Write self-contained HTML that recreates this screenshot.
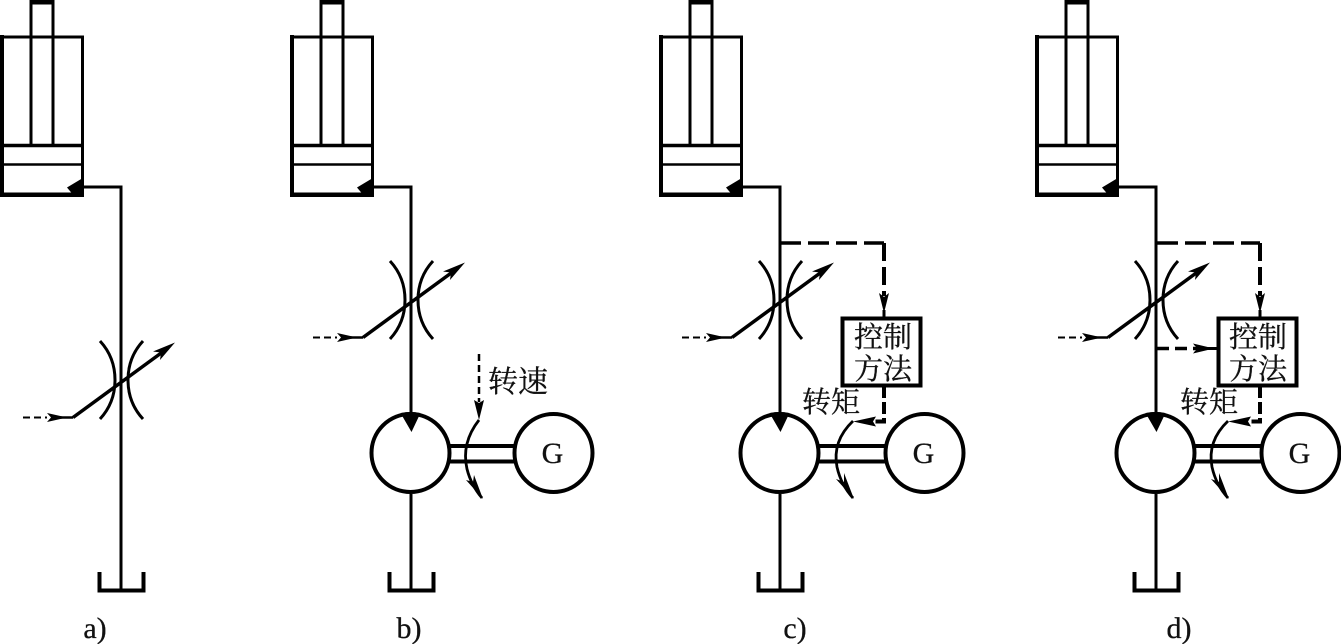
<!DOCTYPE html>
<html><head><meta charset="utf-8"><style>
html,body{margin:0;padding:0;background:#fff}
svg{display:block}
text{font-family:"Liberation Serif","Noto Serif CJK SC",serif;fill:#111;stroke:#111;stroke-width:.3}
.l{fill:none;stroke:#000;stroke-width:3}
.t{fill:none;stroke:#000;stroke-width:4}
.d{fill:none;stroke:#000;stroke-width:4;stroke-dasharray:21 7}
.ds{fill:none;stroke:#000;stroke-width:2;stroke-dasharray:7 4}
.f{fill:#000;stroke:none}
</style></head><body>
<svg width="1341" height="644" viewBox="0 0 1341 644" xmlns="http://www.w3.org/2000/svg">
<defs>
<g id="cyl">
<path class="l" d="M2 37H82.500V195" style="stroke-width:3"/>
<path class="f" d="M0 35H4V197H0ZM0 192.500H84V197H0Z"/>
<path class="l" d="M2 145.500H82" style="stroke-width:3.500"/>
<path class="l" d="M2 164.500H82" style="stroke-width:2.500"/>
<path class="l" d="M31 37V145M53 37V145" style="stroke-width:3"/>
<path class="l" d="M31 37V2M53 37V2" style="stroke-width:3"/>
<path class="f" d="M29.500 0H54.500V4.500H29.500Z"/>
<path class="f" d="M67 187.500L82 178.500H84V197H75Z"/>
</g>
<g id="orf">
<path class="l" d="M-21 -39C-9 -26 -6 -12 -6 0S-9 26 -21 39"/>
<path class="l" d="M22 -39C10 -26 7 -12 7 0S10 26 22 39"/>
<path class="l" d="M-48 37.500L47 -32" style="stroke-width:3.500"/>
<path class="f" d="M54 -37.500L32 -28.500L40 -27.500L39 -20Z"/>
<path class="ds" d="M-98 37.500H-74"/>
<path class="l" d="M-68 37.500H-48" style="stroke-width:2.500"/>
<path class="f" d="M-54 37.500L-74 33L-70 37.500L-74 42Z"/>
</g>
<g id="tank"><path class="t" d="M-21.500 572V590.500H22.500V572"/></g>
<g id="pump">
<circle class="t" cx="0" cy="0" r="39"/>
<path class="f" d="M-10 -40Q0 -42 10 -40L1 -21Z"/>
</g>
<g id="g">
<circle class="t" cx="0" cy="0" r="39"/>
<text x="-1" y="10" font-size="30" text-anchor="middle">G</text>
</g>
<g id="curve">
<path class="l" d="M0 -33Q-18 -10 -12 16Q-8 32 3 45" style="stroke-width:2.800"/>
<path class="f" d="M4 46L-13 27L-6 29L-5 22Z"/>
</g>
<g id="curve2">
<path class="l" d="M0 -32Q-21 -12 -16 14Q-12 32 0 45" style="stroke-width:2.800"/>
<path class="f" d="M1 46L-17 26L-9 29L-9 20Z"/>
</g>
</defs>
<rect width="1341" height="644" fill="#fff"/>

<!-- a -->
<use href="#cyl"/>
<path class="l" d="M82 187H121V591"/>
<use href="#orf" x="121" y="380"/>
<use href="#tank" x="121"/>
<text x="95" y="638" font-size="30" text-anchor="middle">a)</text>

<!-- b -->
<use href="#cyl" x="290"/>
<path class="l" d="M372 187H411V414M411 494V591"/>
<use href="#orf" x="411" y="300"/>
<use href="#tank" x="411"/>
<use href="#pump" x="410.500" y="453"/>
<path class="t" d="M450 446H514M450 461.500H514"/>
<use href="#g" x="553.500" y="453"/>
<path class="ds" d="M479 354V402" style="stroke-width:2.500"/>
<path class="f" d="M479 420L474 400L479 403L484 400Z"/>
<use href="#curve" x="479" y="453"/>
<text x="518" y="392" font-size="30" text-anchor="middle">转速</text>
<text x="409" y="638" font-size="30" text-anchor="middle">b)</text>

<!-- c -->
<use href="#cyl" x="659"/>
<path class="l" d="M741 187H780V414M780 494V591"/>
<use href="#orf" x="780" y="300"/>
<use href="#tank" x="780"/>
<use href="#pump" x="779.500" y="453"/>
<path class="t" d="M819 446H885M819 461.500H885"/>
<use href="#g" x="924.500" y="453"/>
<path class="d" d="M780 243H884" style="stroke-width:3.500"/>
<path class="d" d="M884 243V296" style="stroke-dasharray:18 6"/>
<path class="f" d="M884 313L879 293L884 297L889 293Z"/>
<path class="l" d="M884 310V317"/>
<rect x="842.500" y="318.500" width="78" height="67" fill="#fff" stroke="#000" stroke-width="4"/>
<text x="883" y="347" font-size="29" text-anchor="middle">控制</text>
<text x="883" y="379" font-size="29" text-anchor="middle">方法</text>
<path class="d" d="M884 386V421.500H870" style="stroke-dasharray:12 4"/>
<path class="f" d="M853 421.500L876 416.500L873 421.500L876 426.500Z"/>
<use href="#curve2" x="853" y="453"/>
<text x="831" y="412" font-size="29" text-anchor="middle">转矩</text>
<text x="795" y="638" font-size="30" text-anchor="middle">c)</text>

<!-- d -->
<use href="#cyl" x="1035"/>
<path class="l" d="M1117 187H1156V414M1156 494V591"/>
<use href="#orf" x="1156" y="300"/>
<use href="#tank" x="1156"/>
<use href="#pump" x="1155.500" y="453"/>
<path class="t" d="M1195 446H1261M1195 461.500H1261"/>
<use href="#g" x="1300.500" y="453"/>
<path class="d" d="M1157 243H1260" style="stroke-width:3.500"/>
<path class="d" d="M1260 243V296" style="stroke-dasharray:18 6"/>
<path class="f" d="M1260 313L1255 293L1260 297L1265 293Z"/>
<path class="l" d="M1260 310V317"/>
<path class="d" d="M1157 348.500H1195" style="stroke-width:3.500;stroke-dasharray:12 6"/>
<path class="l" d="M1195 348.500H1217"/>
<path class="f" d="M1214 348.500L1193 343.500L1197 348.500L1193 353.500Z"/>
<rect x="1218.500" y="318.500" width="78" height="67" fill="#fff" stroke="#000" stroke-width="4"/>
<text x="1258" y="347" font-size="29" text-anchor="middle">控制</text>
<text x="1258" y="379" font-size="29" text-anchor="middle">方法</text>
<path class="d" d="M1260 386V421.500H1246" style="stroke-dasharray:12 4"/>
<path class="f" d="M1228 421.500L1251 416.500L1248 421.500L1251 426.500Z"/>
<use href="#curve2" x="1228" y="453"/>
<text x="1209" y="412" font-size="29" text-anchor="middle">转矩</text>
<text x="1179" y="638" font-size="30" text-anchor="middle">d)</text>
</svg>
</body></html>
